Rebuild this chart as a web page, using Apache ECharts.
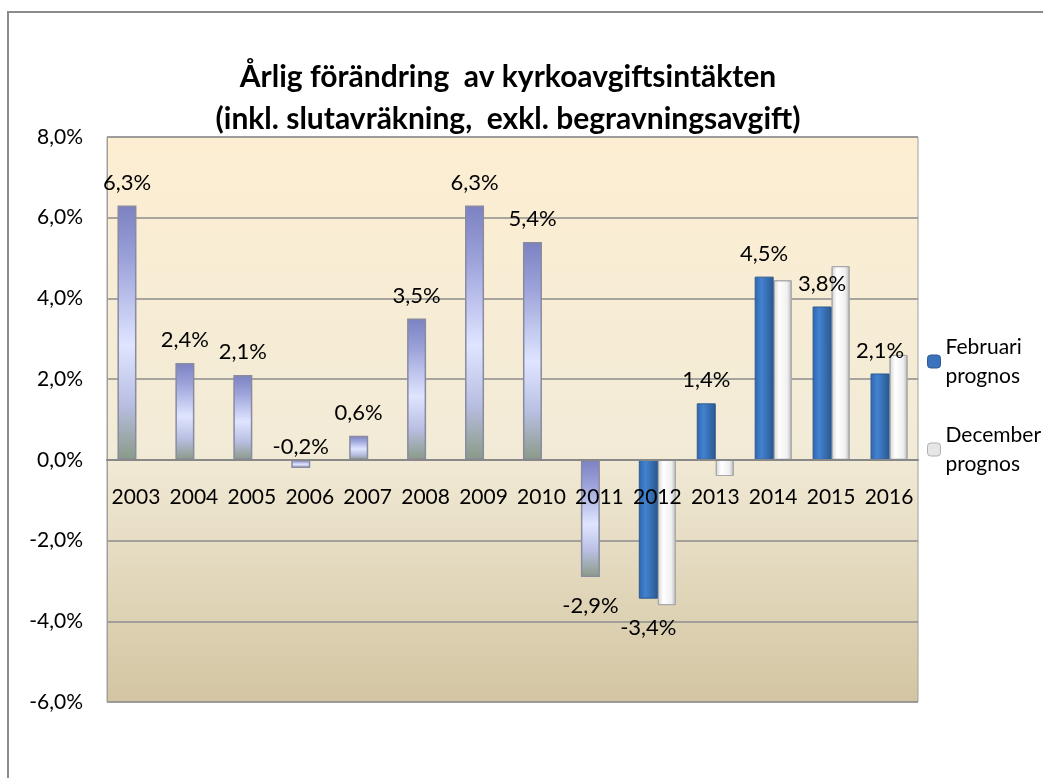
<!DOCTYPE html>
<html>
<head>
<meta charset="utf-8">
<script src="https://cdn.jsdelivr.net/npm/echarts@6/dist/echarts.min.js"></script>
<style>
  html, body { margin: 0; padding: 0; background: #ffffff; }
  #Echarts { width: 1043px; height: 778px; }
</style>
</head>
<body>
<div id="Echarts"></div>
<script>
// årtal på kategoriaxeln
var years = ['2003', '2004', '2005', '2006', '2007', '2008', '2009', '2010',
             '2011', '2012', '2013', '2014', '2015', '2016'];
// utfall 2003-2011 + februariprognos (procent)
var februari = [6.3, 2.4, 2.1, -0.2, 0.6, 3.5, 6.3, 5.4, -2.9, -3.44, 1.4, 4.54, 3.8, 2.14];
// decemberprognos (procent), saknas för utfallsåren
var december = [null, null, null, null, null, null, null, null, null, -3.6, -0.4, 4.45, 4.8, 2.6];
// antal år som är utfall (lila staplar)
var utfallCount = 9;
var yTicks = [-6, -4, -2, 0, 2, 4, 6, 8];

var FONT = 'Lato, "Open Sans", sans-serif';

function pct(v) {
    return v.toFixed(1).replace('.', ',') + '%';
}

var W = 1043, H = 778;
var gridTop = 137, gridBottom = 76;
var chartDom = document.getElementById('Echarts');
var myChart = echarts.init(chartDom, null, { width: W, height: H });

// kategoriaxeln ska ligga på nollan
var yMin = yTicks[0], yMax = yTicks[yTicks.length - 1];
var zeroOffset = -(H - gridTop - gridBottom) * (0 - yMin) / (yMax - yMin);

var purpleFill = new echarts.graphic.LinearGradient(0, 0, 0, 1, [
    { offset: 0, color: '#7c81c2' },
    { offset: 0.2, color: '#9aa0d8' },
    { offset: 0.55, color: '#dfe5ff' },
    { offset: 0.78, color: '#b8bfe2' },
    { offset: 1, color: '#8a9a86' }
]);
var blueFill = new echarts.graphic.LinearGradient(0, 0, 1, 0, [
    { offset: 0, color: '#2f65ad' },
    { offset: 0.35, color: '#4382d0' },
    { offset: 1, color: '#2a5890' }
]);
var whiteFill = new echarts.graphic.LinearGradient(0, 0, 1, 0, [
    { offset: 0, color: '#d2d2d2' },
    { offset: 0.3, color: '#ffffff' },
    { offset: 0.75, color: '#f0f0f0' },
    { offset: 1, color: '#b9b9b9' }
]);

var febData = februari.map(function (v, i) {
    var item = { value: v };
    if (i < utfallCount) {
        item.itemStyle = { color: purpleFill, borderColor: '#8a8aa0', borderWidth: 1.5 };
    }
    if (v < 0) {
        // -0,2% står ovanför nollinjen i originalet
        item.label = (v > -1) ? { position: 'top', distance: 2 } : { position: 'outside', distance: 18 };
    }
    return item;
});

var option = {
    backgroundColor: '#ffffff',
    textStyle: { fontFamily: FONT },
    title: {
        text: 'Årlig förändring  av kyrkoavgiftsintäkten\n(inkl. slutavräkning,  exkl. begravningsavgift)',
        left: 503,
        top: 51,
        textAlign: 'center',
        textStyle: {
            fontFamily: FONT,
            fontSize: 30,
            fontWeight: 'bold',
            color: '#000000',
            lineHeight: 42
        }
    },
    graphic: [{
        type: 'rect',
        shape: { x: 8, y: 12, width: 1100, height: 900 },
        style: { fill: 'none', stroke: '#8c8c8c', lineWidth: 2 },
        silent: true
    }],
    legend: {
        orient: 'vertical',
        left: 922,
        top: 313,
        itemWidth: 13,
        itemHeight: 13,
        itemGap: 1,
        data: [
            { name: 'Februari prognos', itemStyle: { color: '#3a72bd', borderColor: '#2e5a8e', borderWidth: 1 } },
            { name: 'December prognos', itemStyle: { color: '#e6e6e6', borderColor: '#b0b0b0', borderWidth: 1 } }
        ],
        formatter: function (name) { return name.replace(' ', '\n'); },
        textStyle: {
            fontFamily: FONT,
            fontSize: 21,
            lineHeight: 29,
            color: '#000000',
            padding: [29, 0, 0, 0]
        }
    },
    grid: {
        left: 107,
        right: 125,
        top: gridTop,
        bottom: gridBottom,
        show: true,
        borderColor: '#a0a0a0',
        borderWidth: 1,
        backgroundColor: new echarts.graphic.LinearGradient(0, 0, 0, 1, [
            { offset: 0, color: '#fdeed2' },
            { offset: 0.55, color: '#f2ebd7' },
            { offset: 1, color: '#d3c5a2' }
        ])
    },
    xAxis: {
        type: 'category',
        data: years,
        offset: zeroOffset,
        z: 10,
        axisLine: { onZero: false, lineStyle: { color: '#888888', width: 2 } },
        axisTick: { show: false },
        axisLabel: {
            interval: 0,
            margin: 27,
            fontFamily: FONT,
            fontSize: 21,
            color: '#000000'
        }
    },
    yAxis: {
        type: 'value',
        min: yMin,
        max: yMax,
        interval: 2,
        axisLine: { show: true, lineStyle: { color: '#a0a0a0', width: 1 } },
        axisTick: { show: false },
        splitLine: { lineStyle: { color: '#8c8c8c', width: 1.5 } },
        axisLabel: {
            margin: 24,
            fontFamily: FONT,
            fontSize: 21,
            color: '#000000',
            formatter: function (v) { return pct(v); }
        }
    },
    series: [{
        name: 'Februari prognos',
        type: 'bar',
        barWidth: 19,
        barGap: '0%',
        data: febData,
        itemStyle: { color: blueFill, borderColor: '#2e5a8e', borderWidth: 1 },
        label: {
            show: true,
            position: 'outside',
            distance: 12,
            fontFamily: FONT,
            fontSize: 22,
            color: '#000000',
            formatter: function (p) { return pct(p.value); }
        },
        z: 3
    }, {
        name: 'December prognos',
        type: 'bar',
        barWidth: 18,
        data: december,
        itemStyle: { color: whiteFill, borderColor: '#a8a8a8', borderWidth: 1 },
        z: 2
    }]
};

myChart.setOption(option);
</script>
</body>
</html>
